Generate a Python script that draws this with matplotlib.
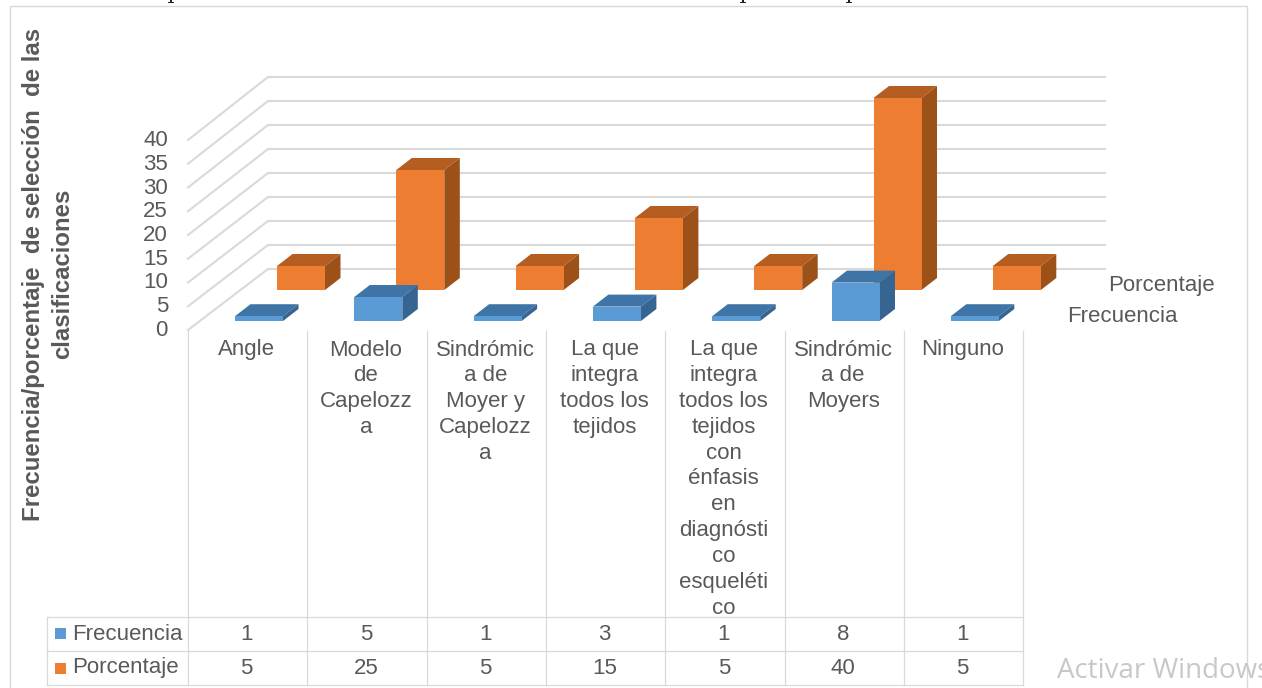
import matplotlib
matplotlib.use("Agg")
import matplotlib.pyplot as plt
from matplotlib.patches import Polygon, Rectangle

categories = [["Angle"], ["Modelo", "de", "Capelozz", "a"],
              ["Sindrómic", "a de", "Moyer y", "Capelozz", "a"],
              ["La que", "integra", "todos los", "tejidos"],
              ["La que", "integra", "todos los", "tejidos", "con", "énfasis", "en",
               "diagnósti", "co", "esqueléti", "co"],
              ["Sindrómic", "a de", "Moyers"], ["Ninguno"]]
frecuencia = [1, 5, 1, 3, 1, 8, 1]
porcentaje = [5, 25, 5, 15, 5, 40, 5]
y_ticks = [0, 5, 10, 15, 20, 25, 30, 35, 40]

plt.rcParams['font.family'] = ['Liberation Sans', 'DejaVu Sans']
GRAY = '#595959'
GRID = '#d9d9d9'
FS = 16

fig = plt.figure(figsize=(12.62, 6.88), dpi=100)
ax = fig.add_axes([0, 0, 1, 1])
ax.set_xlim(0, 1262)
ax.set_ylim(688, 0)
ax.axis('off')

# outer frame
ax.add_patch(Rectangle((9.5, 5.5), 1237.5, 700, fill=False, ec=GRID, lw=1.0, zorder=1))

# remnants of the cropped caption line above the frame
for x in (171, 743, 849):
    ax.add_patch(Rectangle((x - 1, 0), 2, 3, fc='#222222', ec='none', zorder=1))
    ax.add_patch(Rectangle((x - 3, 2.2), 6, 1.2, fc='#222222', ec='none', zorder=1))

PX = 4.8          # pixels per value unit
FRONT_X, BACK_X = 188, 268
for i, t in enumerate(y_ticks):
    yb = 269 - t * PX
    yf = 330 - t * 4.75
    ax.plot([FRONT_X, BACK_X, 1105], [yf, yb, yb], color=GRID, lw=1.5, zorder=2,
            solid_joinstyle='miter')
    ax.text(168, yf + 0.5, str(t), ha='right', va='center', fontsize=FS, color=GRAY)

def bar3d(x0, base, value, front, top, side, z):
    w, dx, dy = 48, 15.5, 12
    yt = base - value * PX
    ax.add_patch(Polygon([(x0, yt), (x0 + dx, yt - dy), (x0 + w + dx, yt - dy), (x0 + w, yt)],
                         fc=top, ec='none', zorder=z))
    ax.add_patch(Polygon([(x0 + w, yt), (x0 + w + dx, yt - dy), (x0 + w + dx, base - dy), (x0 + w, base)],
                         fc=side, ec='none', zorder=z))
    ax.add_patch(Rectangle((x0, yt), w, value * PX, fc=front, ec='none', zorder=z))

STEP = 119.3
for i, v in enumerate(porcentaje):
    bar3d(277 + STEP * i, 290, v, '#ED7D31', '#B65E22', '#9C5119', 3 + i * 0.01)
for i, v in enumerate(frecuencia):
    bar3d(235 + STEP * i, 321, v, '#5B9BD5', '#3F75A6', '#376592', 4 + i * 0.01)

# category columns
TBL_L = 47
COLS = [188 + STEP * i for i in range(8)]
for x in COLS:
    ax.plot([x, x], [331, 685], color=GRID, lw=0.9, zorder=2)
for y in (617, 651, 685):
    ax.plot([TBL_L, COLS[-1]], [y, y], color=GRID, lw=0.9, zorder=2)
ax.plot([TBL_L, TBL_L], [617, 685], color=GRID, lw=0.9, zorder=2)

for i, lines in enumerate(categories):
    cx = COLS[i] + STEP / 2 - 1
    for j, s in enumerate(lines):
        ax.text(cx, 350 + 25.8 * j, s, ha='center', va='center', fontsize=FS, color=GRAY)
    ax.text(cx, 635, str(frecuencia[i]), ha='center', va='center', fontsize=FS, color=GRAY)
    ax.text(cx, 668, str(porcentaje[i]), ha='center', va='center', fontsize=FS, color=GRAY)

ax.add_patch(Rectangle((55, 628), 11, 11, fc='#5B9BD5', ec='none', zorder=3))
ax.add_patch(Rectangle((55, 662.5), 11, 11, fc='#ED7D31', ec='none', zorder=3))
ax.text(72, 634.5, "Frecuencia", ha='left', va='center', fontsize=FS, color=GRAY)
ax.text(72, 667.5, "Porcentaje", ha='left', va='center', fontsize=FS, color=GRAY)

ax.text(1108, 285, "Porcentaje", ha='left', va='center', fontsize=FS, color=GRAY)
ax.text(1067, 316.5, "Frecuencia", ha='left', va='center', fontsize=FS, color=GRAY)

ax.text(34, 274, "Frecuencia/porcentaje  de selección  de las", rotation=90, ha='center',
        va='center', fontsize=17.3, fontweight='bold', color=GRAY)
ax.text(63, 274, "clasificaciones", rotation=90, ha='center', va='center',
        fontsize=17.3, fontweight='bold', color=GRAY)

ax.text(1057, 671, "Activar Windows", ha='left', va='center', fontsize=20, color='#c8c8c8',
        family=['Open Sans', 'DejaVu Sans'], clip_on=True)

fig.savefig("out.png", dpi=100)
